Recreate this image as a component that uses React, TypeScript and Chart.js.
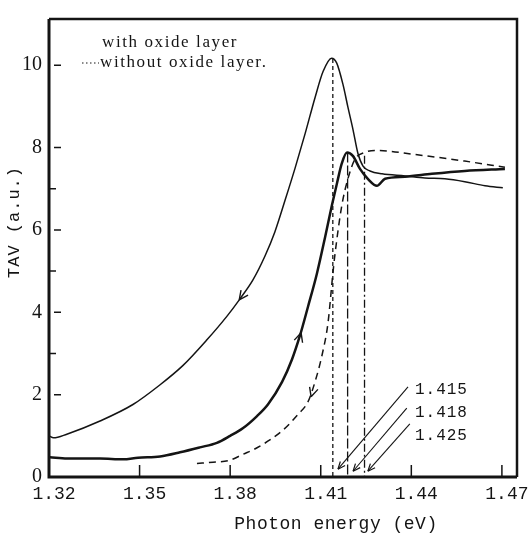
import React, { useEffect, useRef } from "react";
import { Chart, registerables } from "chart.js";

Chart.register(...registerables);

// Axis ticks
const xTickValues = [1.32, 1.35, 1.38, 1.41, 1.44, 1.47];
const yTickValues = [0, 2, 4, 6, 8, 10];
const yMinorTicks = [3, 5, 7];

// With oxide layer, sweep with big peak (scanned downward)
const peakX = [1.32, 1.3215, 1.3259, 1.3369, 1.3478, 1.3568, 1.3644, 1.3723, 1.3789, 1.3832, 1.3875, 1.3915, 1.3948, 1.3981, 1.4015, 1.4048, 1.4081, 1.4108, 1.4136, 1.4153, 1.4174, 1.419, 1.4207, 1.4223, 1.424, 1.4263, 1.4303, 1.4379, 1.4445, 1.4511, 1.4577, 1.4644, 1.4703];
const peakY = [1.0, 0.95, 1.04, 1.36, 1.76, 2.24, 2.71, 3.33, 3.9, 4.32, 4.78, 5.36, 5.95, 6.7, 7.5, 8.33, 9.21, 9.85, 10.17, 10.05, 9.52, 8.98, 8.43, 7.86, 7.55, 7.43, 7.36, 7.31, 7.26, 7.24, 7.17, 7.07, 7.02];

// With oxide layer, sweep scanned upward (thick curve)
const riseX = [1.3203, 1.326, 1.3369, 1.3445, 1.3495, 1.3568, 1.3634, 1.37, 1.3756, 1.38, 1.3843, 1.3889, 1.3925, 1.3972, 1.4005, 1.4031, 1.4058, 1.4087, 1.4114, 1.4137, 1.4154, 1.417, 1.4187, 1.4207, 1.423, 1.4256, 1.4286, 1.4313, 1.4379, 1.4468, 1.4577, 1.471];
const riseY = [0.48, 0.45, 0.45, 0.43, 0.47, 0.5, 0.6, 0.72, 0.83, 1.0, 1.19, 1.48, 1.76, 2.31, 2.86, 3.43, 4.14, 4.93, 5.81, 6.6, 7.14, 7.62, 7.88, 7.79, 7.48, 7.24, 7.07, 7.24, 7.29, 7.36, 7.43, 7.48];

// Without oxide layer (dashed)
const bareX = [1.369, 1.3743, 1.3796, 1.3842, 1.3889, 1.3972, 1.4025, 1.4058, 1.4081, 1.4104, 1.4124, 1.414, 1.4147, 1.417, 1.419, 1.4213, 1.4246, 1.4279, 1.4412, 1.4577, 1.471];
const bareY = [0.33, 0.36, 0.4, 0.55, 0.71, 1.12, 1.52, 1.83, 2.31, 2.95, 3.74, 4.93, 5.4, 6.6, 7.24, 7.71, 7.88, 7.93, 7.83, 7.67, 7.52];

// Vertical marker lines
const markerX = [1.414, 1.4189, 1.4245];
const markerTopY = [10.15, 7.88, 7.8];
const markerLabels = ["1.415", "1.418", "1.425"];

// Callout lines from labels to markers
const calloutFromX = [1.4389, 1.4385, 1.4395];
const calloutFromY = [2.19, 1.67, 1.29];
const calloutToX = [1.4157, 1.4207, 1.4256];
const calloutToY = [0.19, 0.14, 0.14];
const labelX = 1.4412;
const labelY = [2.12, 1.55, 1.0];

// Direction arrows on curves (tail -> tip)
const curveArrowTailX = [1.385, 1.402, 1.4085];
const curveArrowTailY = [4.5, 3.15, 2.35];
const curveArrowTipX = [1.383, 1.4035, 1.4068];
const curveArrowTipY = [4.3, 3.5, 1.95];

const INK = "#141414";

function pts(xs: number[], ys: number[]) {
  return xs.map((x, i) => ({ x, y: ys[i] }));
}

export default function App() {
  const ref = useRef<HTMLCanvasElement>(null);

  useEffect(() => {
    const canvas = ref.current!;

    const drawHead = (ctx: CanvasRenderingContext2D, tx: number, ty: number, fx: number, fy: number, len: number, ang: number) => {
      const dx = tx - fx;
      const dy = ty - fy;
      const d = Math.hypot(dx, dy) || 1;
      const ux = dx / d;
      const uy = dy / d;
      ctx.beginPath();
      for (const s of [1, -1]) {
        const a = s * ang;
        const rx = ux * Math.cos(a) - uy * Math.sin(a);
        const ry = ux * Math.sin(a) + uy * Math.cos(a);
        ctx.moveTo(tx, ty);
        ctx.lineTo(tx - rx * len, ty - ry * len);
      }
      ctx.stroke();
    };

    const decor = {
      id: "decor",
      beforeDraw(chart: any) {
        const ctx = chart.ctx;
        ctx.save();
        ctx.fillStyle = "#fff";
        ctx.fillRect(0, 0, chart.width, chart.height);
        ctx.restore();
      },
      afterDatasetsDraw(chart: any) {
        const ctx: CanvasRenderingContext2D = chart.ctx;
        const xs = chart.scales.x;
        const ys = chart.scales.y;
        const { left, right, top, bottom } = chart.chartArea;
        ctx.save();
        ctx.strokeStyle = INK;
        ctx.fillStyle = INK;
        ctx.lineCap = "butt";
        // frame
        ctx.lineWidth = 3;
        ctx.beginPath();
        ctx.moveTo(left, top);
        ctx.lineTo(left, bottom);
        ctx.lineTo(right, bottom);
        ctx.stroke();
        ctx.lineWidth = 2.5;
        ctx.beginPath();
        ctx.moveTo(left, top);
        ctx.lineTo(right, top);
        ctx.lineTo(right, bottom);
        ctx.stroke();
        // inward x ticks
        ctx.lineWidth = 1.5;
        ctx.beginPath();
        xTickValues.slice(1).forEach((v) => {
          const px = xs.getPixelForValue(v);
          ctx.moveTo(px, bottom);
          ctx.lineTo(px, bottom - 12);
        });
        // inward y ticks
        yTickValues.slice(1).forEach((v) => {
          const py = ys.getPixelForValue(v);
          ctx.moveTo(left + 5, py);
          ctx.lineTo(left + 12, py);
        });
        yMinorTicks.forEach((v) => {
          const py = ys.getPixelForValue(v);
          ctx.moveTo(left, py);
          ctx.lineTo(left + 7, py);
        });
        ctx.stroke();

        // curve direction arrows
        ctx.lineWidth = 1.4;
        curveArrowTipX.forEach((tx, i) => {
          drawHead(
            ctx,
            xs.getPixelForValue(tx),
            ys.getPixelForValue(curveArrowTipY[i]),
            xs.getPixelForValue(curveArrowTailX[i]),
            ys.getPixelForValue(curveArrowTailY[i]),
            10,
            0.45
          );
        });
        // callout arrowheads
        ctx.lineWidth = 1.2;
        calloutToX.forEach((tx, i) => {
          drawHead(
            ctx,
            xs.getPixelForValue(tx),
            ys.getPixelForValue(calloutToY[i]),
            xs.getPixelForValue(calloutFromX[i]),
            ys.getPixelForValue(calloutFromY[i]),
            8,
            0.4
          );
        });

        // callout labels
        ctx.font = "16px 'Liberation Mono', monospace";
        (ctx as any).letterSpacing = "1px";
        ctx.textAlign = "left";
        ctx.textBaseline = "middle";
        markerLabels.forEach((t, i) => {
          ctx.fillText(t, xs.getPixelForValue(labelX), ys.getPixelForValue(labelY[i]));
        });

        // legend text
        ctx.font = "17px 'Liberation Serif', serif";
        (ctx as any).letterSpacing = "1.6px";
        ctx.textBaseline = "alphabetic";
        ctx.fillText("with oxide layer", 102, 47);
        ctx.fillText("without oxide layer.", 100, 67);
        ctx.lineWidth = 1;
        ctx.setLineDash([1.5, 2.5]);
        ctx.beginPath();
        ctx.moveTo(82, 63);
        ctx.lineTo(99, 63);
        ctx.stroke();
        ctx.setLineDash([]);

        // axis titles
        ctx.font = "18px 'Liberation Mono', monospace";
        (ctx as any).letterSpacing = "0.5px";
        ctx.textAlign = "center";
        ctx.textBaseline = "middle";
        ctx.fillText("Photon energy (eV)", 336, 524);
        ctx.translate(14, 222);
        ctx.rotate(-Math.PI / 2);
        ctx.font = "17px 'Liberation Mono', monospace";
        (ctx as any).letterSpacing = "1px";
        ctx.fillText("TAV (a.u.)", 0, 0);
        ctx.restore();
        (ctx as any).letterSpacing = "0px";
      },
    };

    const datasets: any[] = [
      {
        label: "with oxide layer (down sweep)",
        data: pts(peakX, peakY),
        borderColor: INK,
        borderWidth: 1.5,
        pointRadius: 0,
        cubicInterpolationMode: "monotone",
      },
      {
        label: "with oxide layer (up sweep)",
        data: pts(riseX, riseY),
        borderColor: INK,
        borderWidth: 2.5,
        pointRadius: 0,
        cubicInterpolationMode: "monotone",
      },
      {
        label: "without oxide layer",
        data: pts(bareX, bareY),
        borderColor: INK,
        borderWidth: 1.5,
        borderDash: [7, 5],
        pointRadius: 0,
        cubicInterpolationMode: "monotone",
      },
    ];
    const markerDashes = [[4, 3], [10, 3], [8, 3, 2, 3]];
    markerX.forEach((mx, i) => {
      datasets.push({
        label: "marker " + markerLabels[i],
        data: [
          { x: mx, y: markerTopY[i] },
          { x: mx, y: 0 },
        ],
        borderColor: INK,
        borderWidth: 1.3,
        borderDash: markerDashes[i],
        pointRadius: 0,
      });
    });
    calloutFromX.forEach((fx, i) => {
      datasets.push({
        label: "callout " + markerLabels[i],
        data: [
          { x: fx, y: calloutFromY[i] },
          { x: calloutToX[i], y: calloutToY[i] },
        ],
        borderColor: INK,
        borderWidth: 1.1,
        pointRadius: 0,
      });
    });

    const chart = new Chart(canvas, {
      type: "line",
      data: { datasets },
      options: {
        animation: false,
        responsive: false,
        devicePixelRatio: 1,
        parsing: false as any,
        layout: { padding: { top: 10, right: 13, left: 0, bottom: 0 } },
        plugins: {
          legend: { display: false },
          tooltip: { enabled: false },
        },
        scales: {
          x: {
            type: "linear",
            min: 1.32,
            max: 1.475,
            afterFit: (s: any) => {
              s.height = 57;
            },
            afterBuildTicks: (s: any) => {
              s.ticks = xTickValues.map((v) => ({ value: v }));
            },
            grid: { display: false, drawTicks: false },
            border: { display: false },
            ticks: {
              color: INK,
              font: { family: "'Liberation Mono', monospace", size: 18 },
              padding: 6,
              labelOffset: 5,
              maxRotation: 0,
              autoSkip: false,
              callback: (v: any) => Number(v).toFixed(2),
            },
          },
          y: {
            type: "linear",
            min: 0,
            max: 11.12,
            afterFit: (s: any) => {
              s.width = 49;
            },
            afterBuildTicks: (s: any) => {
              s.ticks = yTickValues.map((v) => ({ value: v }));
            },
            grid: { display: false, drawTicks: false },
            border: { display: false },
            ticks: {
              color: INK,
              font: { family: "'Liberation Serif', serif", size: 20 },
              padding: 7,
              autoSkip: false,
              callback: (v: any) => String(v),
            },
          },
        },
      },
      plugins: [decor],
    });
    return () => chart.destroy();
  }, []);

  return (
    <canvas
      ref={ref}
      width={530}
      height={534}
      style={{ position: "fixed", left: 0, top: 0, width: 530, height: 534, background: "#fff" }}
    />
  );
}
